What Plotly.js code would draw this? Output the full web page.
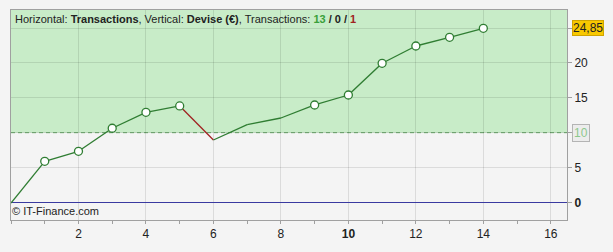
<!DOCTYPE html>
<html>
<head>
<meta charset="utf-8">
<script src="https://cdn.plot.ly/plotly-3.0.1.min.js"></script>
<style>html,body{margin:0;padding:0;background:#f4f4f4;}#chart{width:613px;height:252px;}</style>
</head>
<body>
<div id="chart"></div>
<script>
// Data
var trades = [0, 1, 2, 3, 4, 5, 6, 7, 8, 9, 10, 11, 12, 13, 14];
var equity = [0, 5.93, 7.35, 10.63, 12.9, 13.8, 8.96, 11.14, 12.09, 13.94, 15.36, 19.87, 22.33, 23.57, 24.85];
var xTickVals = [2, 4, 6, 8, 10, 12, 14, 16];
var xTickText = ['2', '4', '6', '8', '<b>10</b>', '12', '14', '16'];
var yTickVals = [0, 5, 10, 15, 20, 24.85];
var yTickText = ['<b>0</b>', '5', '', '15', '20', ''];
var threshold = 10;
var lastLabel = '24,85';
var counts = {win: 13, flat: 0, loss: 1};

var GREEN = '#2f7d32', RED = '#a02222';
var traces = [];
// segments coloured by direction
for (var i = 1; i < trades.length; i++) {
  var up = equity[i] >= equity[i - 1];
  traces.push({
    x: [trades[i - 1], trades[i]], y: [equity[i - 1], equity[i]],
    type: 'scatter', mode: 'lines', hoverinfo: 'skip', showlegend: false,
    line: {color: up ? GREEN : RED, width: 1.3}
  });
}
// markers at new highs
var mx = [], my = [], hi = equity[0];
for (var j = 1; j < trades.length; j++) {
  if (equity[j] > hi) { mx.push(trades[j]); my.push(equity[j]); hi = equity[j]; }
}
traces.push({
  x: mx, y: my, type: 'scatter', mode: 'markers', showlegend: false,
  marker: {size: 8, color: '#ffffff', line: {color: GREEN, width: 1.3}}
});

var layout = {
  width: 613, height: 252,
  margin: {l: 11, r: 46, t: 10, b: 32},
  paper_bgcolor: '#f4f4f4', plot_bgcolor: '#f4f4f4',
  font: {family: 'Liberation Sans, Arial, sans-serif', size: 12, color: '#222'},
  showlegend: false,
  xaxis: {
    range: [0, 16.48], tickmode: 'array', tickvals: xTickVals, ticktext: xTickText,
    ticks: 'outside', ticklen: 3, tickcolor: '#a0a0a0',
    showgrid: true, gridcolor: 'rgba(0,0,0,0.1)', zeroline: false,
    showline: true, linecolor: '#a0a0a0', mirror: true,
    minor: {dtick: 1, tick0: 0, ticks: 'outside', ticklen: 3, tickcolor: '#a0a0a0', showgrid: false},
    tickfont: {size: 12, color: '#222'}
  },
  yaxis: {
    range: [-2.42, 27.45], side: 'right', tickmode: 'array', tickvals: yTickVals, ticktext: yTickText,
    ticks: 'outside', ticklen: 4, tickcolor: '#a0a0a0',
    showgrid: true, gridcolor: 'rgba(0,0,0,0.1)',
    zeroline: true, zerolinecolor: '#3a3aa0', zerolinewidth: 1,
    showline: true, linecolor: '#a0a0a0', mirror: true,
    tickfont: {size: 12, color: '#222'}
  },
  shapes: [
    {type: 'rect', xref: 'paper', yref: 'y', x0: 0, x1: 1, y0: threshold, y1: 27.45,
     fillcolor: '#c8ecc8', line: {width: 0}, layer: 'below'},
    {type: 'line', xref: 'paper', yref: 'y', x0: 0, x1: 1, y0: threshold, y1: threshold,
     line: {color: '#6aa86a', width: 1, dash: '4px,3px'}, layer: 'below'}
  ],
  annotations: [
    {xref: 'paper', yref: 'paper', x: 0, y: 1, xanchor: 'left', yanchor: 'top', xshift: 2, yshift: -1,
     showarrow: false, font: {size: 11, color: '#222'},
     text: 'Horizontal: <b>Transactions</b>, Vertical: <b>Devise (€)</b>, Transactions: <b><span style="color:#3aa03a">' + counts.win + '</span> / ' + counts.flat + ' / <span style="color:#a02222">' + counts.loss + '</span></b>'},
    {xref: 'paper', yref: 'paper', x: 0, y: 0, xanchor: 'left', yanchor: 'bottom', xshift: -1, yshift: 1,
     showarrow: false, font: {size: 11, color: '#222'}, text: '© IT-Finance.com'},
    {xref: 'paper', yref: 'y', x: 1, y: equity[equity.length - 1], xanchor: 'left', yanchor: 'middle', xshift: 5,
     showarrow: false, text: lastLabel, font: {size: 12, color: '#222'},
     bgcolor: '#f8c800', bordercolor: '#d0a400', borderwidth: 1, borderpad: 0},
    {xref: 'paper', yref: 'y', x: 1, y: threshold, xanchor: 'left', yanchor: 'middle', xshift: 5,
     showarrow: false, text: String(threshold), font: {size: 12, color: '#8cc88c'},
     bgcolor: '#ececec', bordercolor: '#b4b4b4', borderwidth: 1, borderpad: 1}
  ]
};
Plotly.newPlot('chart', traces, layout, {displayModeBar: false, staticPlot: true});
</script>
</body>
</html>
